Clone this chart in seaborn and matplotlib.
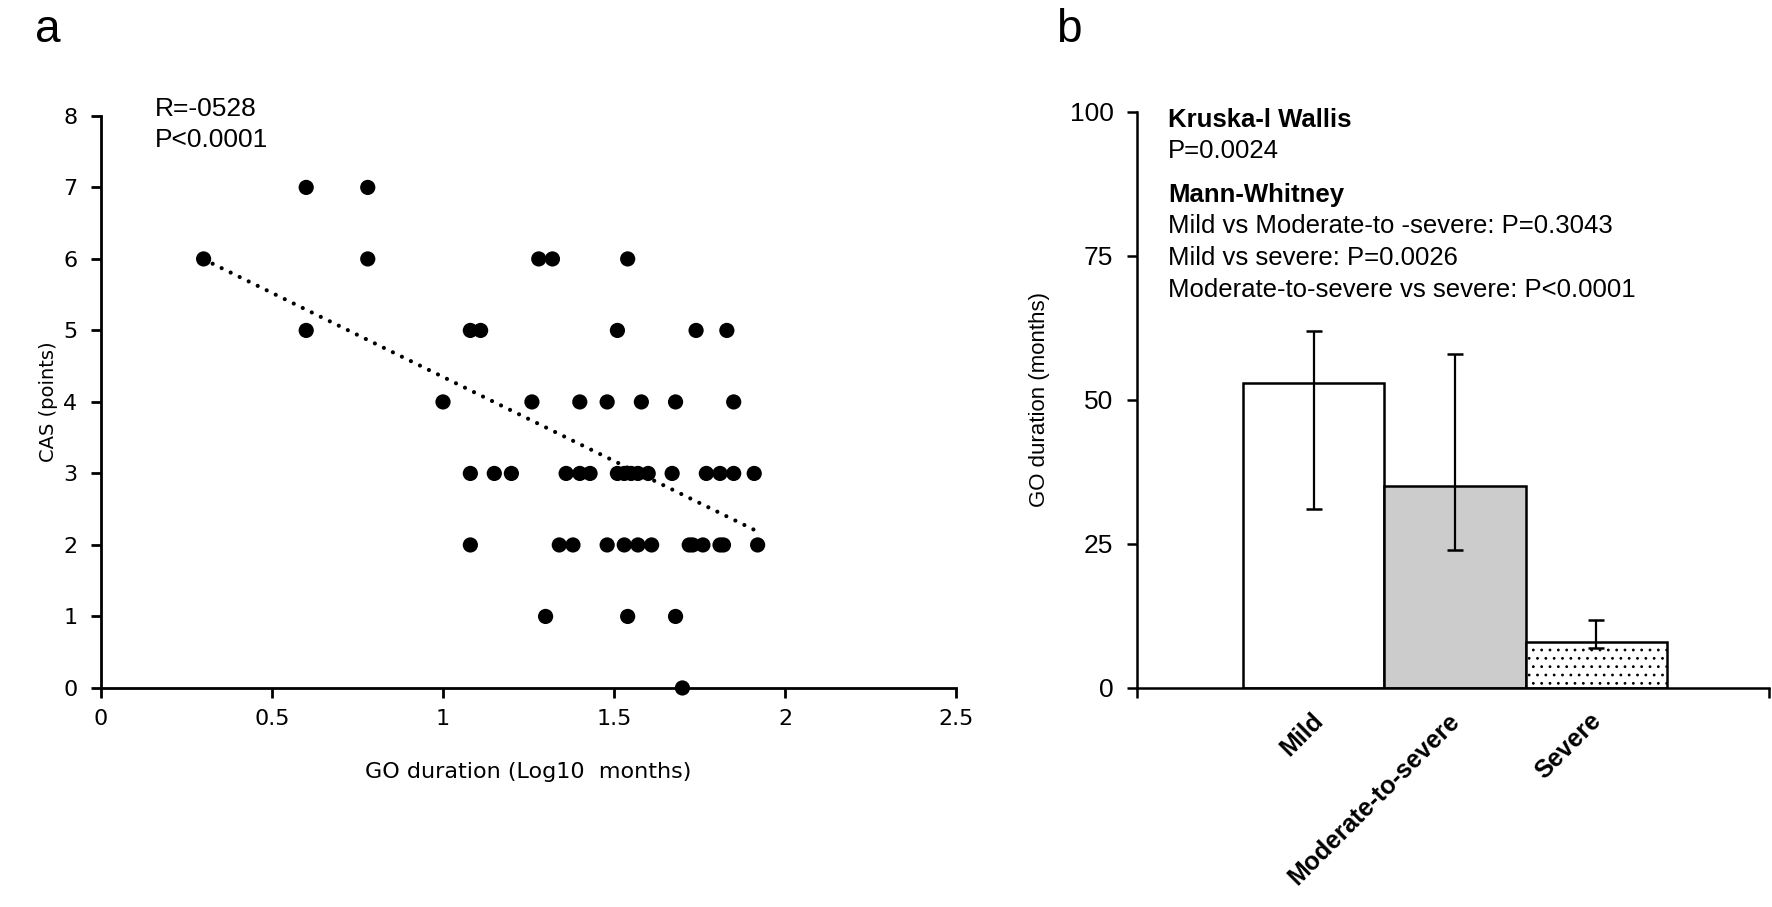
import numpy as np
import matplotlib
matplotlib.use('Agg')
import matplotlib.pyplot as plt
import matplotlib.transforms as mtransforms
import seaborn as sns

# Panel a: CAS vs GO duration (log10 months), one row per CAS level
log_duration = [0.60, 0.78,                                   # CAS 7
                0.30, 0.78, 1.28, 1.32, 1.54,                 # CAS 6
                0.60, 1.08, 1.11, 1.51, 1.74, 1.83,           # CAS 5
                1.00, 1.26, 1.40, 1.48, 1.58, 1.68, 1.85,     # CAS 4
                1.08, 1.15, 1.20, 1.36, 1.40, 1.43, 1.51, 1.53, 1.55,
                1.57, 1.60, 1.67, 1.77, 1.81, 1.85, 1.91,     # CAS 3
                1.08, 1.34, 1.38, 1.48, 1.53, 1.57, 1.61, 1.72, 1.73,
                1.76, 1.81, 1.82, 1.92,                       # CAS 2
                1.30, 1.54, 1.68,                             # CAS 1
                1.70]                                         # CAS 0
cas_points = [7] * 2 + [6] * 5 + [5] * 6 + [4] * 7 + [3] * 16 + [2] * 13 + [1] * 3 + [0]

# regression line
fit_intercept = 6.70
fit_slope = -2.35

# Panel b: GO duration by severity
severity = ['Mild', 'Moderate-to-severe', 'Severe']
mean_months = [53, 35, 8]
err_low = [31, 24, 7]
err_high = [62, 58, 11.8]
bar_colors = ['white', '#cccccc', 'white']

sns.set_style('ticks')
plt.rcParams['font.family'] = ['DejaVu Sans']
plt.rcParams['hatch.linewidth'] = 0.8
for key in ['text.color', 'axes.labelcolor', 'xtick.color', 'ytick.color']:
    plt.rcParams[key] = 'black'
narrow = ['Liberation Sans Narrow', 'Liberation Sans']
arial = ['Liberation Sans']

fig = plt.figure(figsize=(17.72, 9.07), dpi=100)
ax1 = fig.add_axes([0.0570, 0.2415, 0.4825, 0.6307])
ax2 = fig.add_axes([0.6417, 0.2415, 0.3567, 0.6351])

# ---- panel a
sns.scatterplot(x=log_duration, y=cas_points, color='black', s=120,
                edgecolor='none', clip_on=False, zorder=3, ax=ax1)
xs = np.array([min(log_duration), max(log_duration)])
ax1.plot(xs, fit_intercept + fit_slope * xs, color='black', linewidth=3,
         linestyle=(0, (0.01, 2.4)), dash_capstyle='round')
ax1.set_xlim(0, 2.5)
ax1.set_ylim(0, 8)
ax1.set_xticks([0, 0.5, 1, 1.5, 2, 2.5])
ax1.set_xticklabels(['0', '0.5', '1', '1.5', '2', '2.5'])
ax1.set_yticks(range(9))
ax1.tick_params(axis='both', labelsize=16, width=2, length=7, direction='out', color='black')
ax1.tick_params(axis='y', pad=10)
ax1.tick_params(axis='x', pad=8)
for s in ['top', 'right']:
    ax1.spines[s].set_visible(False)
for s in ['left', 'bottom']:
    ax1.spines[s].set_linewidth(2)
    ax1.spines[s].set_color('black')
ax1.set_xlabel('GO duration (Log10  months)', fontsize=16, labelpad=24)
ax1.set_ylabel('CAS (points)', fontsize=14, labelpad=4)
fig.text(155 / 1772, 1 - 116 / 907, 'R=-0528', family=arial, fontsize=19, va='baseline')
fig.text(155 / 1772, 1 - 147 / 907, 'P<0.0001', family=arial, fontsize=19, va='baseline')

# ---- panel b
sns.barplot(x=severity, y=mean_months, hue=severity, palette=bar_colors, width=1.0,
            edgecolor='black', linewidth=1.8, legend=False, ax=ax2, zorder=2)
ax2.patches[2].set_hatch('..')
yerr = [np.array(mean_months) - np.array(err_low), np.array(err_high) - np.array(mean_months)]
ax2.errorbar(range(len(severity)), mean_months, yerr=yerr, fmt='none', ecolor='black',
             elinewidth=1.6, capsize=6, capthick=1.8, zorder=3)
ax2.set_xlim(-1.25, 3.225)
ax2.set_ylim(0, 100)
ax2.set_yticks([0, 25, 50, 75, 100])
ax2.set_yticklabels(['0', '25', '50', '75', '100'], family=narrow, fontsize=19)
ax2.tick_params(axis='y', width=1.8, length=7, direction='out', pad=10, color='black')
ax2.set_xticks(range(len(severity)))
ax2.set_xticks([-1.25, 3.225], minor=True)
ax2.tick_params(axis='x', which='major', length=0, pad=15)
ax2.tick_params(axis='x', which='minor', length=7, width=1.8, direction='out', color='black')
ax2.set_xticklabels(severity, rotation=45, ha='right', va='top', rotation_mode='anchor',
                    family=arial, fontsize=18, fontweight='bold')
for lab, dx in zip(ax2.get_xticklabels(), [-2, -5, -5]):
    shift = mtransforms.ScaledTranslation(dx / 72, 0, fig.dpi_scale_trans)
    lab.set_transform(lab.get_transform() + shift)
ax2.set_xlabel('')
for s in ['top', 'right']:
    ax2.spines[s].set_visible(False)
for s in ['left', 'bottom']:
    ax2.spines[s].set_linewidth(1.8)
    ax2.spines[s].set_color('black')
ax2.set_ylabel('GO duration (months)', family=arial, fontsize=16, labelpad=14)

tx = 1168 / 1772
fig.text(tx, 1 - 127 / 907, 'Kruska-l Wallis', family=narrow, fontsize=18.5, fontweight='bold', va='baseline')
fig.text(tx, 1 - 158 / 907, 'P=0.0024', family=narrow, fontsize=18.5, va='baseline')
fig.text(tx, 1 - 202 / 907, 'Mann-Whitney', family=narrow, fontsize=18.5, fontweight='bold', va='baseline')
fig.text(tx, 1 - 233 / 907, 'Mild vs Moderate-to -severe: P=0.3043', family=narrow, fontsize=18.5, va='baseline')
fig.text(tx, 1 - 265 / 907, 'Mild vs severe: P=0.0026', family=narrow, fontsize=18.5, va='baseline')
fig.text(tx, 1 - 297 / 907, 'Moderate-to-severe vs severe: P<0.0001', family=narrow, fontsize=18.5, va='baseline')

# panel letters
fig.text(35 / 1772, 1 - 42 / 907, 'a', family=arial, fontsize=33, va='baseline')
fig.text(1056 / 1772, 1 - 42 / 907, 'b', family=arial, fontsize=33, va='baseline')

fig.savefig('out.png', dpi=100)
